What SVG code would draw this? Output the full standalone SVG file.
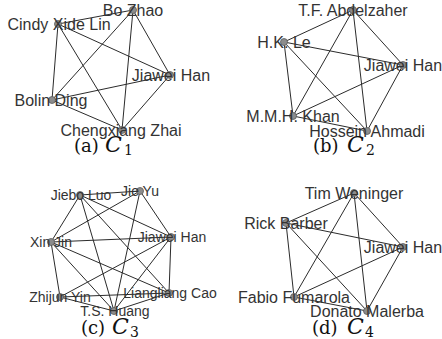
<svg xmlns="http://www.w3.org/2000/svg" width="442" height="339" viewBox="0 0 442 339">
<style>
.e{stroke:#2b2b2b;stroke-width:1;fill:none}
.n circle{fill:#8c8c8c;stroke:#5a5a5a;stroke-width:0.8}
.n text{font-family:"Liberation Sans",Arial,sans-serif;font-size:16px;fill:#333;text-anchor:middle}
.c .n text{font-size:14px}
.cap{font-family:"DejaVu Serif","Liberation Serif",serif;font-size:18px;fill:#111}
.cap .m{font-style:italic;font-size:22px}
.cap .s{font-size:14px}
</style>
<rect width="442" height="339" fill="#fff"/>
<g id="connectors">
<path class="e" d="M58 24L133 10M58 24L170 75M58 24L52 100M58 24L122 130M133 10L170 75M133 10L52 100M133 10L122 130M170 75L52 100M170 75L122 130M52 100L122 130"/>
<path class="e" d="M353 10L284 42M353 10L403 65M353 10L293 116M353 10L367 131M284 42L403 65M284 42L293 116M284 42L367 131M403 65L293 116M403 65L367 131M293 116L367 131"/>
<path class="e" d="M80 195L140 191M80 195L51 242M80 195L171 237M80 195L169 293M80 195L114 311M140 191L51 242M140 191L171 237M140 191L114 311M51 242L171 237M51 242L60 297M51 242L169 293M51 242L114 311M171 237L60 297M171 237L169 293M171 237L114 311M60 297L169 293M60 297L114 311M169 293L114 311"/>
<path class="e" d="M354 193L286 223M354 193L403 247M354 193L294 297M354 193L367 311M286 223L403 247M286 223L294 297M286 223L367 311M403 247L294 297M403 247L367 311M294 297L367 311"/>
</g>
<g id="panel-a">
<g id="a-cindy" class="n"><circle cx="58" cy="24" r="3.5"/><text x="59" y="29.5">Cindy Xide Lin</text></g>
<g id="a-bozhao" class="n"><circle cx="133" cy="10" r="3.5"/><text x="133" y="15.5">Bo Zhao</text></g>
<g id="a-jiawei" class="n"><circle cx="170" cy="75" r="3.5"/><text x="171" y="80.5">Jiawei Han</text></g>
<g id="a-bolin" class="n"><circle cx="52" cy="100" r="3.5"/><text x="51" y="105.5">Bolin Ding</text></g>
<g id="a-cheng" class="n"><circle cx="122" cy="130" r="3.5"/><text x="121" y="135.5">Chengxiang Zhai</text></g>
<text class="cap" x="74" y="152">(a)<tspan class="m" x="105">C</tspan><tspan class="s" x="124" dy="3">1</tspan></text>
</g>
<g id="panel-b">
<g id="b-tf" class="n"><circle cx="353" cy="10" r="3.5"/><text x="353" y="15.5">T.F. Abdelzaher</text></g>
<g id="b-hk" class="n"><circle cx="284" cy="42" r="3.5"/><text x="284" y="47.5">H.K. Le</text></g>
<g id="b-jiawei" class="n"><circle cx="403" cy="65" r="3.5"/><text x="403" y="70.5">Jiawei Han</text></g>
<g id="b-khan" class="n"><circle cx="293" cy="116" r="3.5"/><text x="293" y="121.5">M.M.H. Khan</text></g>
<g id="b-hossein" class="n"><circle cx="367" cy="131" r="3.5"/><text x="367" y="136.5">Hossein Ahmadi</text></g>
<text class="cap" x="313" y="152">(b)<tspan class="m" x="347">C</tspan><tspan class="s" x="366" dy="3">2</tspan></text>
</g>
<g id="panel-c" class="c">
<g id="c-jiebo" class="n"><circle cx="80" cy="195" r="3.5"/><text x="81" y="200">Jiebo Luo</text></g>
<g id="c-jieyu" class="n"><circle cx="140" cy="191" r="3.5"/><text x="140" y="196">Jie Yu</text></g>
<g id="c-xinjin" class="n"><circle cx="51" cy="242" r="3.5"/><text x="51" y="247">Xin Jin</text></g>
<g id="c-jiawei" class="n"><circle cx="171" cy="237" r="3.5"/><text x="172" y="242">Jiawei Han</text></g>
<g id="c-zhijun" class="n"><circle cx="60" cy="297" r="3.5"/><text x="60" y="302">Zhijun Yin</text></g>
<g id="c-liang" class="n"><circle cx="169" cy="293" r="3.5"/><text x="170" y="298">Liangliang Cao</text></g>
<g id="c-ts" class="n"><circle cx="114" cy="311" r="3.5"/><text x="115" y="316">T.S. Huang</text></g>
<text class="cap" x="81" y="334">(c)<tspan class="m" x="112">C</tspan><tspan class="s" x="130" dy="3">3</tspan></text>
</g>
<g id="panel-d">
<g id="d-tim" class="n"><circle cx="354" cy="193" r="3.5"/><text x="354" y="198.5">Tim Weninger</text></g>
<g id="d-rick" class="n"><circle cx="286" cy="223" r="3.5"/><text x="286" y="228.5">Rick Barber</text></g>
<g id="d-jiawei" class="n"><circle cx="403" cy="247" r="3.5"/><text x="403" y="252.5">Jiawei Han</text></g>
<g id="d-fabio" class="n"><circle cx="294" cy="297" r="3.5"/><text x="294" y="302.5">Fabio Fumarola</text></g>
<g id="d-donato" class="n"><circle cx="367" cy="311" r="3.5"/><text x="367" y="316.5">Donato Malerba</text></g>
<text class="cap" x="312" y="334">(d)<tspan class="m" x="347">C</tspan><tspan class="s" x="365" dy="3">4</tspan></text>
</g>
</svg>
